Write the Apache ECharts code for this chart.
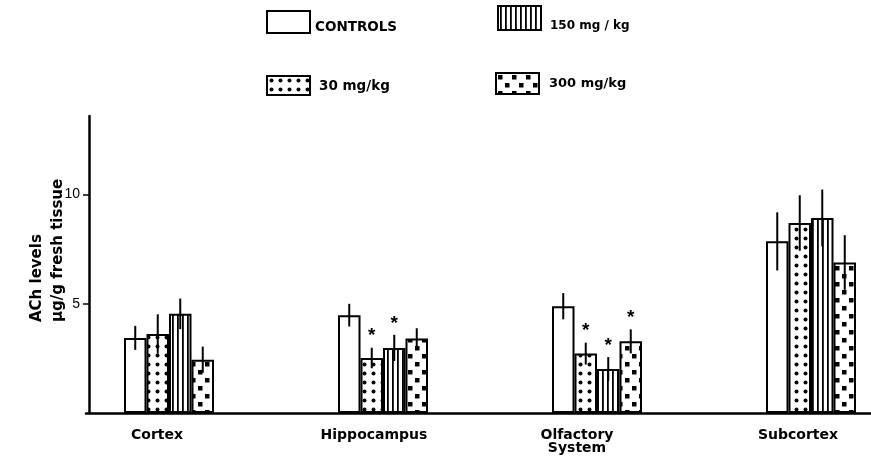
<!DOCTYPE html>
<html>
<head>
<meta charset="utf-8">
<script src="https://cdn.jsdelivr.net/npm/echarts@6/dist/echarts.min.js"></script>
<style>html,body{margin:0;padding:0;background:#fff;}#chart{width:871px;height:461px;}</style>
</head>
<body>
<div id="chart"></div>
<script>
// ---- data ----
const categories = ['Cortex', 'Hippocampus', 'Olfactory\nSystem', 'Subcortex'];
const seriesNames = ['CONTROLS', '30 mg/kg', '150 mg / kg', '300 mg/kg'];
const controls = [3.44, 4.48, 4.89, 7.86];
const mg30 = [3.62, 2.52, 2.72, 8.70];
const mg150 = [4.54, 2.98, 2.01, 8.93];
const mg300 = [2.44, 3.41, 3.28, 6.89];
const errControls = [0.55, 0.52, 0.60, 1.33];
const err30 = [0.90, 0.47, 0.50, 1.27];
const err150 = [0.70, 0.60, 0.55, 1.30];
const err300 = [0.60, 0.47, 0.55, 1.25];
const star30 = [0, 1, 1, 0];
const star150 = [0, 1, 1, 0];
const star300 = [0, 0, 1, 0];
const star0 = [0, 0, 0, 0];
const yTicks = [5, 10];

// ---- patterns ----
function makePattern(type) {
  const c = document.createElement('canvas');
  const ctx = c.getContext('2d');
  if (type === 'dots') {
    c.width = 9; c.height = 9;
    ctx.fillStyle = '#fff'; ctx.fillRect(0, 0, 9, 9);
    ctx.fillStyle = '#000';
    ctx.beginPath(); ctx.arc(4.5, 4.5, 2.0, 0, Math.PI * 2); ctx.fill();
  } else if (type === 'stripes') {
    c.width = 5; c.height = 4;
    ctx.fillStyle = '#fff'; ctx.fillRect(0, 0, 5, 4);
    ctx.fillStyle = '#000'; ctx.fillRect(2, 0, 1.8, 4);
  } else if (type === 'squares') {
    c.width = 14; c.height = 16;
    ctx.fillStyle = '#fff'; ctx.fillRect(0, 0, 14, 16);
    ctx.fillStyle = '#000';
    ctx.fillRect(2, 2, 4.5, 4.5);
    ctx.fillRect(9, 10, 4.5, 4.5);
  } else {
    c.width = 2; c.height = 2;
    ctx.fillStyle = '#fff'; ctx.fillRect(0, 0, 2, 2);
  }
  return { image: c, repeat: 'repeat' };
}

const fills = [makePattern('plain'), makePattern('dots'), makePattern('stripes'), makePattern('squares')];
const values = [controls, mg30, mg150, mg300];
const errs = [errControls, err30, err150, err300];
const stars = [star0, star30, star150, star300];
const BW = 22.5;

const errData = [];
values.forEach((arr, d) => {
  arr.forEach((v, i) => errData.push([i, v, errs[d][i], d, stars[d][i]]));
});

const chart = echarts.init(document.getElementById('chart'), null, { renderer: 'canvas' });
const font = 'Liberation Sans, Arial, sans-serif';
const wide = '"DejaVu Sans", sans-serif';

function legendAt(name, left, top, h, fs, shiftY, gapX) {
  return {
    data: [name], left: left, top: top, orient: 'horizontal', padding: 0,
    itemWidth: 43, itemHeight: h, selectedMode: false,
    icon: 'rect',
    itemStyle: { borderColor: '#000', borderWidth: 2 },
    formatter: '{t|{name}}',
    textStyle: {
      color: '#000', fontFamily: wide, fontWeight: 'bold', fontSize: fs,
      rich: { t: { color: '#000', fontFamily: wide, fontWeight: 'bold', fontSize: fs,
        padding: [2 * shiftY, 0, 0, gapX] } }
    }
  };
}

// label nudges (pixels to the left) so the names sit as in the original print
const labelNudge = [12, 9, 20, 13];
const labelRich = {};
labelNudge.forEach((n, i) => {
  labelRich['l' + i] = { color: '#000', fontFamily: wide, fontWeight: 'bold', fontSize: 14,
    lineHeight: 13, padding: [0, 2 * n, 0, 0] };
});

const option = {
  animation: false,
  backgroundColor: '#fff',
  legend: [
    legendAt(seriesNames[0], 266, 10, 22, 13.5, 5, 0),
    legendAt(seriesNames[2], 497, 5, 24, 12, 8, 4),
    legendAt(seriesNames[1], 266, 75, 19, 13.5, 1, 4),
    legendAt(seriesNames[3], 495, 72, 21, 13, 0, 5)
  ],
  grid: [
    { left: 169, right: 60, top: 116, height: 297, containLabel: false },
    { left: 86, right: 0, top: 116, height: 297, containLabel: false }
  ],
  xAxis: [
    {
      type: 'category', data: categories, gridIndex: 0, boundaryGap: false,
      axisLine: { show: false }, axisTick: { show: false },
      axisLabel: {
        color: '#000', fontFamily: wide, fontWeight: 'bold', fontSize: 14, lineHeight: 13, margin: 16,
        formatter: function (value, index) {
          return value.split('\n').map(s => '{l' + index + '|' + s + '}').join('\n');
        },
        rich: labelRich
      }
    },
    {
      type: 'value', gridIndex: 1, min: 0, max: 1,
      axisLine: { show: true, onZero: false, lineStyle: { color: '#000', width: 2.5 } },
      axisTick: { show: false }, axisLabel: { show: false }, splitLine: { show: false }
    }
  ],
  yAxis: [
    {
      type: 'value', gridIndex: 0, min: 0, max: 13.6, interval: 5, offset: 80,
      axisLine: { show: true, lineStyle: { color: '#000', width: 2.5 } },
      axisTick: { show: true, length: 6, lineStyle: { color: '#000', width: 1.5 },
        customValues: yTicks },
      axisLabel: { color: '#000', fontFamily: font, fontSize: 14, margin: 9,
        customValues: yTicks },
      splitLine: { show: false }
    },
    { type: 'value', gridIndex: 1, show: false, min: 0, max: 13.6 }
  ],
  graphic: [
    { type: 'text', x: 37, y: 322, rotation: Math.PI / 2,
      style: { text: 'ACh levels', fill: '#000', font: 'bold 15px ' + wide, textAlign: 'left', textVerticalAlign: 'middle' } },
    { type: 'text', x: 58, y: 322, rotation: Math.PI / 2,
      style: { text: 'µg/g fresh tissue', fill: '#000', font: 'bold 15px ' + wide, textAlign: 'left', textVerticalAlign: 'middle' } }
  ],
  series: seriesNames.map((name, d) => ({
    name: name, type: 'bar', data: values[d], barWidth: BW, barGap: '0%',
    xAxisIndex: 0, yAxisIndex: 0, clip: false,
    itemStyle: { color: fills[d], borderColor: '#000', borderWidth: 2 },
    emphasis: { disabled: true }
  })).concat([{
    type: 'custom', xAxisIndex: 0, yAxisIndex: 0, data: errData, z: 10, clip: false,
    encode: { x: 0, y: 1 },
    renderItem: function (params, api) {
      const cat = api.value(0), mean = api.value(1), err = api.value(2), d = api.value(3), st = api.value(4);
      const c = api.coord([cat, mean]);
      const x = c[0] + (d - 1.5) * BW;
      const yTop = api.coord([cat, mean + err])[1];
      const yBot = api.coord([cat, mean - err])[1];
      const children = [{
        type: 'line', shape: { x1: x, y1: yTop, x2: x, y2: yBot },
        style: { stroke: '#000', lineWidth: 2 }
      }];
      if (st) {
        children.push({
          type: 'text', x: x, y: yTop - 2,
          style: { text: '*', fill: '#000', font: 'bold 19px ' + font, textAlign: 'center', textVerticalAlign: 'bottom' }
        });
      }
      return { type: 'group', children: children };
    }
  }])
};
chart.setOption(option);
</script>
</body>
</html>
